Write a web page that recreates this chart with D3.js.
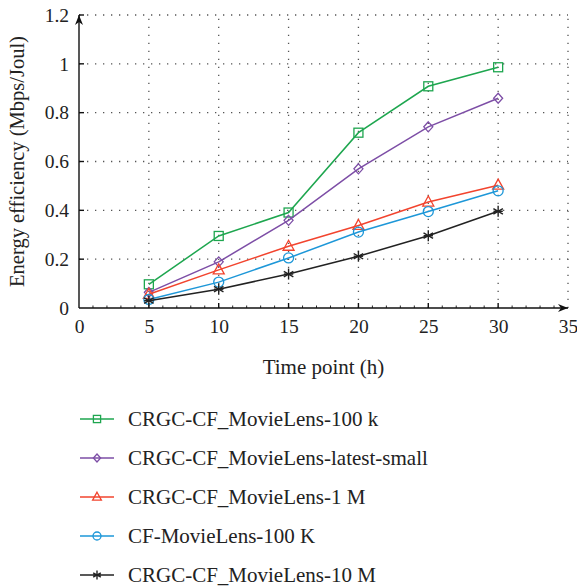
<!DOCTYPE html>
<html><head><meta charset="utf-8">
<script src="https://cdn.jsdelivr.net/npm/d3@7"></script>
<style>body{margin:0;background:#fff}svg{display:block}</style>
</head><body>
<script>
const xValues = [5, 10, 15, 20, 25, 30];
const seriesNames = ["CRGC-CF_MovieLens-100 k","CRGC-CF_MovieLens-latest-small","CRGC-CF_MovieLens-1 M","CF-MovieLens-100 K","CRGC-CF_MovieLens-10 M"];
const green  = [0.097, 0.295, 0.391, 0.718, 0.908, 0.986];
const purple = [0.064, 0.189, 0.359, 0.570, 0.742, 0.859];
const red    = [0.056, 0.156, 0.253, 0.338, 0.434, 0.503];
const blue   = [0.035, 0.106, 0.205, 0.311, 0.395, 0.480];
const black  = [0.030, 0.077, 0.139, 0.212, 0.296, 0.396];
const xTicks = [0, 5, 10, 15, 20, 25, 30, 35];
const yTicks = [0, 0.2, 0.4, 0.6, 0.8, 1, 1.2];
const yTickLabels = ["0","0.2","0.4","0.6","0.8","1","1.2"];
const colors = ["#1ea64f","#7d4ea6","#f2442e","#1d97d8","#222222"];
const markers = ["square","diamond","triangle","circle","star"];
const allSeries = [green, purple, red, blue, black];

const W = 577, H = 588;
const svg = d3.select("body").append("svg").attr("width", W).attr("height", H);
const font = "'Liberation Serif', 'DejaVu Serif', serif";
const x = d3.scaleLinear().domain([0, 35]).range([79, 568]);
const y = d3.scaleLinear().domain([0, 1.2]).range([308, 15]);

// grid
const grid = svg.append("g").attr("stroke", "#555").attr("stroke-width", 1.3).attr("stroke-dasharray", "1.3,6.7");
xTicks.filter(t => t > 0).forEach(t => grid.append("line").attr("x1", x(t)).attr("x2", x(t)).attr("y1", y(0)).attr("y2", y(1.2)));
yTicks.filter(t => t > 0).forEach(t => grid.append("line").attr("x1", x(0)).attr("x2", x(35)).attr("y1", y(t)).attr("y2", y(t)));

// axes
const xAxis = d3.axisBottom(x).tickValues(xTicks).tickSize(0).tickPadding(11).tickFormat(d3.format("d"));
const gx = svg.append("g").attr("transform", `translate(0,${y(0)})`).call(xAxis);
gx.select(".domain").remove();
gx.selectAll("text").attr("font-family", font).attr("font-size", 19.5).attr("fill", "#222");
const yAxis = d3.axisLeft(y).tickValues(yTicks).tickSize(0).tickPadding(10).tickFormat((d, i) => yTickLabels[i]);
const gy = svg.append("g").attr("transform", `translate(${x(0)},0)`).call(yAxis);
gy.select(".domain").remove();
gy.selectAll("text").attr("font-family", font).attr("font-size", 19.5).attr("fill", "#222");

const ax = svg.append("g").attr("stroke", "#111").attr("stroke-width", 1.4);
ax.append("line").attr("x1", x(0)).attr("x2", x(35)).attr("y1", y(0)).attr("y2", y(0));
ax.append("line").attr("x1", x(0)).attr("x2", x(0)).attr("y1", y(0)).attr("y2", y(1.2));
// major ticks
xTicks.filter(t => t > 0 && t < 35).forEach(t => ax.append("line").attr("x1", x(t)).attr("x2", x(t)).attr("y1", y(0)).attr("y2", y(0) - 5));
yTicks.filter(t => t > 0).forEach(t => ax.append("line").attr("x1", x(0)).attr("x2", x(0) + 5).attr("y1", y(t)).attr("y2", y(t)));
// minor ticks
d3.range(1, 35).filter(t => t % 5 !== 0).forEach(t => ax.append("line").attr("stroke-width", 0.9).attr("x1", x(t)).attr("x2", x(t)).attr("y1", y(0)).attr("y2", y(0) - 2.5));
// arrows
svg.append("path").attr("fill", "#111").attr("d", `M${x(35)},${y(0)} l-10,-4 l3,4 l-3,4 z`);
svg.append("path").attr("fill", "#111").attr("d", `M${x(0)},${y(1.2)} l-4,10 l4,-3 l4,3 z`);

// titles
svg.append("text").attr("x", (x(0) + x(35)) / 2).attr("y", 374).attr("text-anchor", "middle")
  .attr("font-family", font).attr("font-size", 21).attr("fill", "#222").text("Time point (h)");
svg.append("text").attr("transform", `translate(24,${y(0.6)}) rotate(-90)`).attr("text-anchor", "middle")
  .attr("font-family", font).attr("font-size", 20.5).attr("fill", "#222").text("Energy efficiency (Mbps/Joul)");

function drawMarker(g, type, cx, cy, color, s) {
  if (type === "square") g.append("rect").attr("x", cx - 4.5 * s).attr("y", cy - 4.5 * s).attr("width", 9 * s).attr("height", 9 * s).attr("fill", "none").attr("stroke", color).attr("stroke-width", 1.3);
  else if (type === "diamond") g.append("path").attr("d", `M${cx},${cy - 5 * s} L${cx + 4.5 * s},${cy} L${cx},${cy + 5 * s} L${cx - 4.5 * s},${cy} Z`).attr("fill", "none").attr("stroke", color).attr("stroke-width", 1.3);
  else if (type === "triangle") g.append("path").attr("d", `M${cx},${cy - 6 * s} L${cx + 5.5 * s},${cy + 4 * s} L${cx - 5.5 * s},${cy + 4 * s} Z`).attr("fill", "none").attr("stroke", color).attr("stroke-width", 1.3);
  else if (type === "circle") g.append("circle").attr("cx", cx).attr("cy", cy).attr("r", 5 * s).attr("fill", "none").attr("stroke", color).attr("stroke-width", 1.3);
  else if (type === "star") {
    const r = 5.5 * s;
    [0, 60, 120].forEach(a => {
      const rad = a * Math.PI / 180;
      g.append("line").attr("x1", cx - r * Math.sin(rad)).attr("y1", cy - r * Math.cos(rad)).attr("x2", cx + r * Math.sin(rad)).attr("y2", cy + r * Math.cos(rad)).attr("stroke", color).attr("stroke-width", 1.4);
    });
    g.append("line").attr("x1", cx - r * 0.85).attr("x2", cx + r * 0.85).attr("y1", cy).attr("y2", cy).attr("stroke", color).attr("stroke-width", 1.4);
  }
}

const line = d3.line().x((d, i) => x(xValues[i])).y(d => y(d));
allSeries.forEach((vals, k) => {
  const g = svg.append("g");
  g.append("path").datum(vals).attr("d", line).attr("fill", "none").attr("stroke", colors[k]).attr("stroke-width", 1.5);
  vals.forEach((v, i) => drawMarker(g, markers[k], x(xValues[i]), y(v), colors[k], 1));
});

// legend
const legY = [419, 458, 497, 536, 575];
seriesNames.forEach((name, k) => {
  const g = svg.append("g");
  g.append("line").attr("x1", 80).attr("x2", 114).attr("y1", legY[k]).attr("y2", legY[k]).attr("stroke", colors[k]).attr("stroke-width", 1.5);
  drawMarker(g, markers[k], 97, legY[k], colors[k], 0.8);
  g.append("text").attr("x", 128).attr("y", legY[k]).attr("dy", "0.35em").attr("font-family", font).attr("font-size", 21).attr("fill", "#222").text(name);
});
</script>
</body></html>
